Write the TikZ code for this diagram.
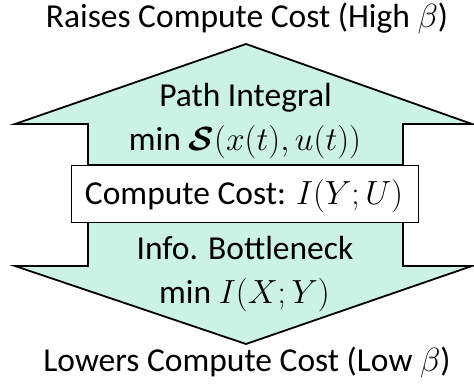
\documentclass[tikz,border=0pt]{standalone}
\usepackage{amsmath}
\usepackage{amssymb}
\usepackage{fontspec}
\setmainfont{Carlito}
\definecolor{mint}{RGB}{204,242,229}

\begin{document}
\begin{tikzpicture}[x=0.7426pt,y=-0.7426pt,
    bigarrow/.style={fill=mint,draw=black,line width=1.34pt,line join=miter},
    costbox/.style={draw=black,fill=white,line width=0.67pt,minimum width=257.7pt,minimum height=42.3pt,inner sep=0pt},
    txt/.style={font=\fontsize{24.88}{30}\selectfont,inner sep=0pt,anchor=base}]
    \useasboundingbox (0,0) rectangle (474,386);
    \draw[bigarrow] (246,44) -- (472,124) -- (403,124) -- (403,165) -- (88,165) -- (88,124) -- (15,124) -- cycle;
    \draw[bigarrow] (88,222) -- (403,222) -- (403,266) -- (472,266) -- (246,344) -- (15,266) -- (88,266) -- cycle;
    \node[costbox] (cost) at (244.5,193.5) {};
    \node[txt] (raise) at (247,28) {Raises Compute Cost (High $\beta$)};
    \node[txt] (pi) at (245.5,107) {Path Integral};
    \node[txt] (pimin) at (245,151) {min $\boldsymbol{\mathcal{S}}(x(t),u(t))$};
    \node[txt] (costtxt) at (244,205) {Compute Cost: $I(Y;U)$};
    \node[txt] (ib) at (245,260) {Info. Bottleneck};
    \node[txt] (ibmin) at (244.5,304) {min $I(X;Y)$};
    \node[txt] (lower) at (247,372) {Lowers Compute Cost (Low $\beta$)};
\end{tikzpicture}
\end{document}
